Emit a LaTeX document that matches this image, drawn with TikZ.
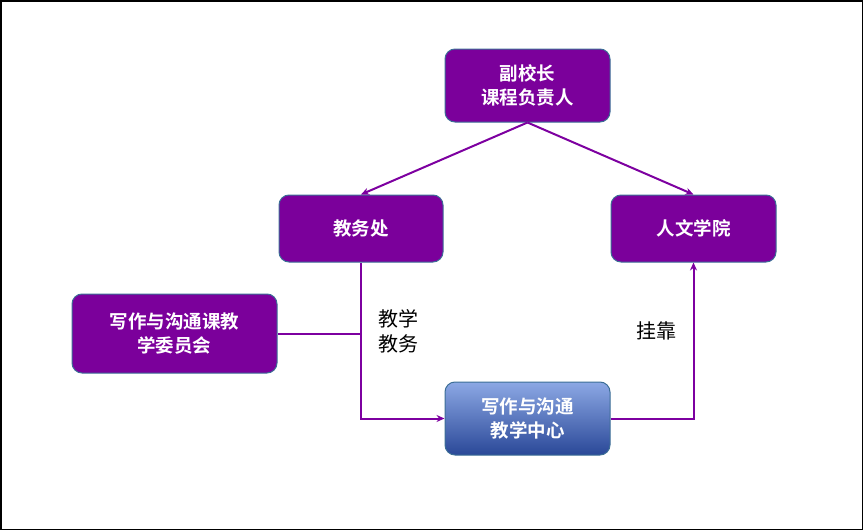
\documentclass[tikz,border=0pt]{standalone}
\usepackage{fontspec}
\newfontfamily\cjk{Noto Sans CJK SC}
\newfontfamily\cjkb{Noto Sans CJK SC Bold}
\usetikzlibrary{arrows.meta,positioning}
\definecolor{boxpurple}{RGB}{123,0,155}
\definecolor{boxedge}{RGB}{60,110,150}
\definecolor{linepurple}{RGB}{125,0,160}
\definecolor{gradtop}{RGB}{140,168,228}
\definecolor{gradbot}{RGB}{42,72,152}
\tikzset{
  pbox/.style={draw=boxedge, line width=1pt, fill=boxpurple, rounded corners=10pt,
    text=white, font=\cjkb\fontsize{18.5}{24}\selectfont, align=center, inner sep=0pt},
  gbox/.style={draw=boxedge, line width=1pt, top color=gradtop, bottom color=gradbot,
    rounded corners=10pt, text=white, font=\cjkb\fontsize{18.5}{24}\selectfont, align=center, inner sep=0pt},
  conn/.style={draw=linepurple, line width=2pt},
  arr/.style={conn, -{Stealth[length=8pt,width=7pt]}},
  lbl/.style={font=\cjk\fontsize{20}{25}\selectfont, align=center, text=black}
}
\begin{document}
\begin{tikzpicture}[x=1pt,y=-1pt]
\useasboundingbox (0,0) rectangle (863,530);
\draw[black, line width=1.5pt] (0.75,0.75) rectangle (862.25,529.25);
\node[pbox, minimum width=165pt, minimum height=73pt] (vp) at (527.5,85.5) {副校长\\课程负责人};
\node[pbox, minimum width=164pt, minimum height=67pt] (jwc) at (361,228.5) {教务处};
\node[pbox, minimum width=165pt, minimum height=67pt] (rw) at (693.5,228.5) {人文学院};
\node[pbox, minimum width=205pt, minimum height=79pt] (wy) at (174.5,333.5) {写作与沟通课教\\学委员会};
\node[gbox, minimum width=165pt, minimum height=73pt] (zx) at (527.5,418.5) {写作与沟通\\教学中心};
\coordinate (corner1) at (361,418.5);
\coordinate (junc) at (361,333.5);
\coordinate (corner2) at (693.5,418.5);
\draw[arr] (vp.south) -- (jwc.north);
\draw[arr] (vp.south) -- (rw.north);
\draw[arr] (jwc.south) -- (corner1) -- (zx.west);
\draw[conn] (wy.east) -- (junc);
\draw[arr] (zx.east) -- (corner2) -- (rw.south);
\node[lbl] (l1) at (398,331) {教学\\教务};
\node[lbl] (l2) at (656,331) {挂靠};
\end{tikzpicture}
\end{document}
